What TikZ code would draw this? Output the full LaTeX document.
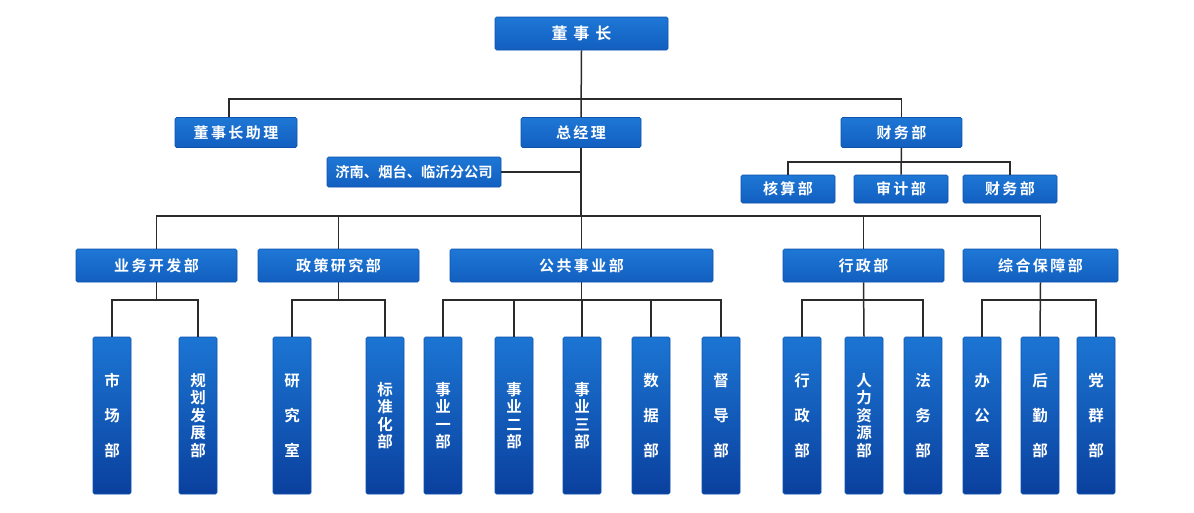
\documentclass[tikz,border=0pt]{standalone}
\usepackage{fontspec}
\newfontfamily\cjk{Noto Sans CJK SC Bold}
\newfontfamily\cjkw{Noto Sans CJK SC Bold}[LetterSpace=16]
\newfontfamily\cjkww{Noto Sans CJK SC Bold}[LetterSpace=36]
\definecolor{boxtop}{HTML}{1E77D5}
\definecolor{boxbot}{HTML}{125FC0}
\definecolor{coltop}{HTML}{1C75D3}
\definecolor{colbot}{HTML}{0A409E}
\definecolor{boxedge}{HTML}{0E52AE}
\definecolor{wirecol}{HTML}{2B2B2B}
\tikzset{
  hbox/.style={draw=boxedge, line width=0.6pt, rounded corners=1.5pt,
    top color=boxtop, bottom color=boxbot, text=white, inner sep=0pt,
    minimum height=30pt, font=\cjkw\fontsize{15}{15}\selectfont},
  vbox/.style={hbox, top color=coltop, bottom color=colbot,
    minimum width=38pt, minimum height=157pt, align=center,
    font=\cjk\fontsize{15.5}{17.5}\selectfont},
  wire/.style={draw=wirecol, line width=1.5pt},
}
\begin{document}
\begin{tikzpicture}[x=1pt, y=-1pt]
  \useasboundingbox (0,0) rectangle (1194,512);
  \coordinate (top) at (0,99);
  \coordinate (fbus) at (0,162);
  \coordinate (mid) at (0,216);
  \coordinate (low) at (0,300);

  \node[hbox, minimum width=173pt, minimum height=33pt, font=\cjkww\fontsize{16}{16}\selectfont] (chair) at (581.5,33.5) {董事长};
  \node[hbox, minimum width=122pt] (asst) at (236,132.5) {董事长助理};
  \node[hbox, minimum width=120pt] (gm) at (581,132.5) {总经理};
  \node[hbox, minimum width=121pt] (fin) at (901.5,132.5) {财务部};
  \node[hbox, minimum width=174pt, font=\cjk\fontsize{14.3}{14.3}\selectfont] (branch) at (414,172) {济南、烟台、临沂分公司};
  \node[hbox, minimum width=94pt, minimum height=28pt] (acct) at (788,189) {核算部};
  \node[hbox, minimum width=94pt, minimum height=28pt] (audit) at (901,189) {审计部};
  \node[hbox, minimum width=94pt, minimum height=28pt] (fin2) at (1010,189) {财务部};

  \node[hbox, minimum width=161pt, minimum height=33pt] (bizdev) at (156.5,265.5) {业务开发部};
  \node[hbox, minimum width=161pt, minimum height=33pt] (policy) at (338.5,265.5) {政策研究部};
  \node[hbox, minimum width=263pt, minimum height=33pt] (public) at (581.5,265.5) {公共事业部};
  \node[hbox, minimum width=161pt, minimum height=33pt] (admin) at (863.5,265.5) {行政部};
  \node[hbox, minimum width=155pt, minimum height=33pt] (support) at (1040.5,265.5) {综合保障部};

  \foreach \n/\x/\t in {
      mkt/112/{市\\[17.5pt]场\\[17.5pt]部},
      plan/198/{规\\划\\发\\展\\部},
      res/292/{研\\[17.5pt]究\\[17.5pt]室},
      std/385/{标\\准\\化\\部},
      pubA/443/{事\\业\\一\\部},
      pubB/514/{事\\业\\二\\部},
      pubC/582/{事\\业\\三\\部},
      data/651/{数\\[17.5pt]据\\[17.5pt]部},
      insp/721/{督\\[17.5pt]导\\[17.5pt]部},
      adm/802/{行\\[17.5pt]政\\[17.5pt]部},
      hr/864/{人\\力\\资\\源\\部},
      law/923/{法\\[17.5pt]务\\[17.5pt]部},
      office/982/{办\\[17.5pt]公\\[17.5pt]室},
      logi/1040/{后\\[17.5pt]勤\\[17.5pt]部},
      party/1096/{党\\[17.5pt]群\\[17.5pt]部}}
    \node[vbox] (\n) at (\x,415.5) {\t};

  \draw[wire] (chair.south) -- (gm.north);
  \draw[wire] ([xshift=-7pt]asst.north) |- (fin.north |- top) -- (fin.north);
  \draw[wire] (fin.south) -- (audit.north);
  \draw[wire] (acct.north) |- (fin2.north |- fbus) -- (fin2.north);
  \draw[wire] (gm.south) -- (gm.south |- mid);
  \draw[wire] (branch.east) -- (branch.east -| gm.south);
  \draw[wire] (bizdev.north) |- (support.north |- mid) -- (support.north);
  \foreach \n in {policy,public,admin}
    \draw[wire] (\n.north) -- (\n.north |- mid);

  \draw[wire] (mkt.north) |- (plan.north |- low) -- (plan.north);
  \draw[wire] (bizdev.south) -- (bizdev.south |- low);
  \draw[wire] (res.north) |- (std.north |- low) -- (std.north);
  \draw[wire] (policy.south) -- (policy.south |- low);
  \draw[wire] (pubA.north) |- (insp.north |- low) -- (insp.north);
  \draw[wire] (public.south) -- (public.south |- low);
  \foreach \n in {pubB,pubC,data}
    \draw[wire] (\n.north) -- (\n.north |- low);
  \draw[wire] (adm.north) |- (law.north |- low) -- (law.north);
  \draw[wire] (admin.south) -- (hr.north);
  \draw[wire] (office.north) |- (party.north |- low) -- (party.north);
  \draw[wire] (support.south) -- (logi.north);
\end{tikzpicture}
\end{document}
